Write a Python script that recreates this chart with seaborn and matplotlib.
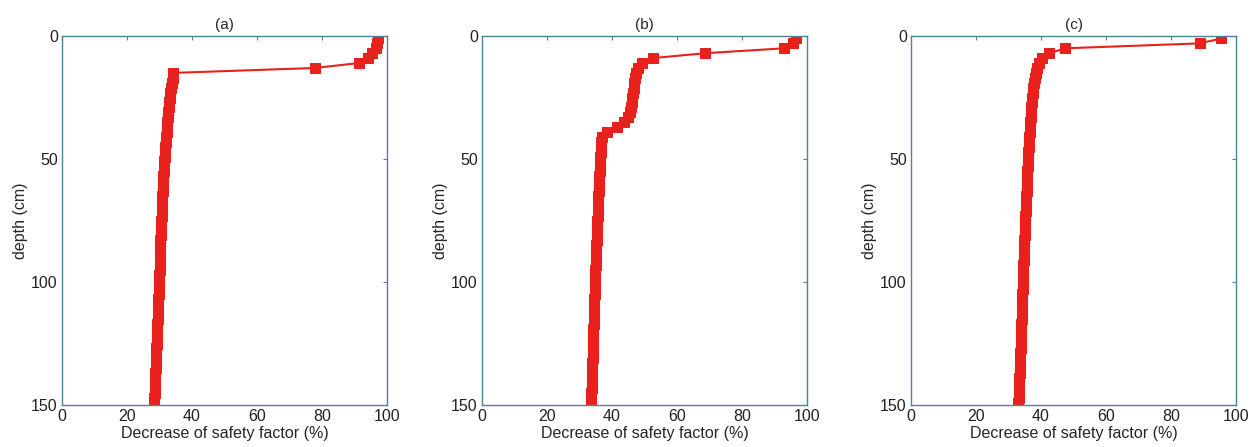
import pandas as pd
import matplotlib.pyplot as plt
import seaborn as sns

# -----------------------------
# Data
# -----------------------------

depth = [1, 3, 5, 7, 9, 11, 13, 15, 17, 19, 21, 23, 25, 27, 29, 31, 33, 35, 37, 39,
         41, 43, 45, 47, 49, 51, 53, 55, 57, 59, 61, 63, 65, 67, 69, 71, 73, 75, 77, 79,
         81, 83, 85, 87, 89, 91, 93, 95, 97, 99, 101, 103, 105, 107, 109, 111, 113, 115,
         117, 119, 121, 123, 125, 127, 129, 131, 133, 135, 137, 139, 141, 143, 145, 147, 149]

decrease_a = [97.2, 97.0, 96.5, 95.5, 94.3, 91.3, 77.8, 34.3, 34.0, 33.7, 33.5, 33.3, 33.1,
              33.0, 32.8, 32.7, 32.6, 32.4, 32.3, 32.2, 32.0, 31.9, 31.8, 31.7, 31.6, 31.5,
              31.4, 31.3, 31.2, 31.2, 31.1, 31.0, 30.9, 30.9, 30.8, 30.7, 30.7, 30.6, 30.5,
              30.5, 30.4, 30.3, 30.3, 30.2, 30.2, 30.1, 30.0, 30.0, 29.9, 29.9, 29.8, 29.7,
              29.7, 29.6, 29.6, 29.5, 29.4, 29.4, 29.3, 29.3, 29.2, 29.1, 29.1, 29.0, 29.0,
              28.9, 28.8, 28.8, 28.7, 28.7, 28.6, 28.5, 28.5, 28.4, 28.3]

decrease_b = [96.7, 95.7, 93.0, 68.6, 52.5, 49.3, 47.9, 47.4, 47.1, 46.9, 46.7, 46.5, 46.3,
              46.1, 45.9, 45.5, 44.9, 43.6, 41.6, 38.4, 36.9, 36.7, 36.6, 36.5, 36.4, 36.3,
              36.2, 36.2, 36.1, 36.0, 36.0, 35.9, 35.8, 35.8, 35.7, 35.6, 35.6, 35.5, 35.5,
              35.4, 35.3, 35.3, 35.2, 35.2, 35.1, 35.0, 35.0, 34.9, 34.9, 34.8, 34.8, 34.7,
              34.7, 34.6, 34.6, 34.5, 34.5, 34.4, 34.4, 34.3, 34.3, 34.2, 34.2, 34.1, 34.0,
              34.0, 33.9, 33.9, 33.8, 33.8, 33.7, 33.7, 33.6, 33.6, 33.5]

decrease_c = [95.5, 88.8, 47.5, 42.5, 40.3, 39.4, 38.8, 38.4, 38.1, 37.8, 37.6, 37.4, 37.3,
              37.1, 37.0, 36.9, 36.8, 36.7, 36.6, 36.5, 36.4, 36.3, 36.2, 36.1, 36.0, 36.0,
              35.9, 35.8, 35.8, 35.7, 35.6, 35.6, 35.5, 35.4, 35.4, 35.3, 35.2, 35.2, 35.1,
              35.0, 35.0, 34.9, 34.9, 34.8, 34.7, 34.7, 34.6, 34.6, 34.5, 34.5, 34.4, 34.4,
              34.3, 34.2, 34.2, 34.1, 34.1, 34.0, 33.9, 33.9, 33.8, 33.8, 33.7, 33.7, 33.6,
              33.5, 33.5, 33.4, 33.4, 33.3, 33.3, 33.2, 33.1, 33.1, 33.0]

panel_titles = ["(a)", "(b)", "(c)"]
x_ticks = [0, 20, 40, 60, 80, 100]
y_ticks = [0, 50, 100, 150]

# -----------------------------
# Style
# -----------------------------

sns.set_style("white")
plt.rcParams["font.family"] = ["Liberation Sans", "DejaVu Sans"]

red = "#e8211c"
axis_col = "#4e8497"

fig = plt.figure(figsize=(12.55, 4.47), dpi=100)

lefts = [62 / 1255, 482 / 1255, 911 / 1255]
width = 325 / 1255
bottom = 42 / 447
height = 369 / 447

series = [decrease_a, decrease_b, decrease_c]

for left, values, title in zip(lefts, series, panel_titles):

    ax = fig.add_axes([left, bottom, width, height])

    df = pd.DataFrame({"decrease": values, "depth": depth})

    sns.lineplot(
        data=df,
        x="decrease",
        y="depth",
        sort=False,
        estimator=None,
        orient="y",
        color=red,
        linewidth=1.5,
        marker="s",
        markersize=7,
        markeredgecolor=red,
        ax=ax
    )

    ax.set_xlim(0, 100)
    ax.set_ylim(150, 0)
    ax.set_xticks(x_ticks)
    ax.set_yticks(y_ticks)

    ax.set_title(title, fontsize=11, pad=5)
    ax.set_xlabel("Decrease of safety factor (%)", fontsize=11.5, labelpad=1)
    ax.set_ylabel("depth (cm)", fontsize=11.5, labelpad=2)

    ax.tick_params(direction="in", length=3, width=0.8, colors=axis_col,
                   labelcolor="#222222", labelsize=11.5,
                   top=True, right=True, pad=3)

    for spine in ax.spines.values():
        spine.set_visible(True)
        spine.set_color(axis_col)
        spine.set_linewidth(1.0)

plt.savefig("out.png", dpi=100)
